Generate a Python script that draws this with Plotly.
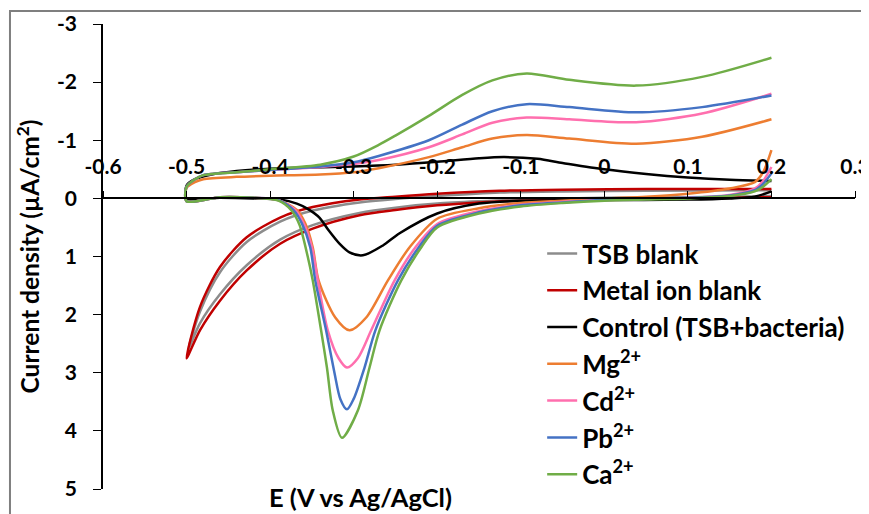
import plotly.graph_objects as go

# ---------------- data ----------------
# each CV starts at +0.2 V, cathodic scan down to -0.5 V, then anodic scan back to +0.2 V
tsb_x = [0.2, 0.1, 0.0, -0.1, -0.15, -0.2, -0.25, -0.293, -0.349, -0.388, -0.428, -0.46, -0.484, -0.498,
         -0.484, -0.46, -0.428, -0.388, -0.349, -0.293, -0.25, -0.2, -0.125, -0.05, 0.05, 0.2]
tsb_y = [-0.04, -0.02, -0.01, 0.02, 0.05, 0.09, 0.16, 0.25, 0.46, 0.71, 1.15, 1.65, 2.15, 2.6,
         1.95, 1.27, 0.75, 0.40, 0.21, 0.07, 0.01, -0.04, -0.10, -0.12, -0.13, -0.14]

metal_x = [0.2, 0.1, 0.0, -0.1, -0.15, -0.2, -0.25, -0.293, -0.349, -0.388, -0.428, -0.46, -0.484, -0.5,
           -0.484, -0.46, -0.428, -0.388, -0.349, -0.293, -0.25, -0.2, -0.125, -0.05, 0.05, 0.2]
metal_y = [-0.02, 0.0, 0.01, 0.04, 0.07, 0.12, 0.2, 0.29, 0.52, 0.78, 1.24, 1.76, 2.27, 2.75,
           1.87, 1.18, 0.67, 0.33, 0.15, 0.02, -0.03, -0.08, -0.13, -0.15, -0.16, -0.16]

ctrl_x = [0.2, 0.18, 0.15, 0.1, 0.0, -0.1, -0.15, -0.2, -0.245, -0.265, -0.289, -0.305, -0.317, -0.33,
          -0.341, -0.355, -0.368, -0.388, -0.42, -0.46, -0.5,
          -0.5, -0.49, -0.47, -0.44, -0.4, -0.35, -0.3, -0.25, -0.2, -0.15, -0.12, -0.08, -0.05, 0.0,
          0.05, 0.1, 0.15, 0.2]
ctrl_y = [-0.12, -0.03, 0.0, 0.02, 0.03, 0.04, 0.09, 0.26, 0.6, 0.81, 0.98, 0.93, 0.78, 0.55,
          0.33, 0.18, 0.09, 0.02, 0.0, -0.01, 0.0,
          -0.22, -0.33, -0.41, -0.47, -0.51, -0.53, -0.55, -0.58, -0.63, -0.69, -0.71, -0.68, -0.61, -0.5,
          -0.42, -0.36, -0.32, -0.3]

mg_x = [0.2, 0.19, 0.18, 0.15, 0.1, 0.05, 0.0, -0.05, -0.1, -0.15, -0.2, -0.233, -0.259, -0.285,
        -0.305, -0.322, -0.342, -0.349, -0.358, -0.368, -0.39, -0.42, -0.46, -0.5,
        -0.5, -0.49, -0.48, -0.44, -0.4, -0.34, -0.3, -0.27, -0.21, -0.17, -0.134, -0.093, -0.042,
        0.038, 0.117, 0.2]
mg_y = [-0.83, -0.45, -0.28, -0.17, -0.08, -0.03, 0.0, 0.04, 0.08, 0.17, 0.35, 0.84, 1.41, 2.05,
        2.27, 2.05, 1.41, 0.84, 0.43, 0.2, 0.03, -0.01, -0.02, 0.05,
        -0.18, -0.28, -0.33, -0.37, -0.39, -0.41, -0.45, -0.52, -0.71, -0.88, -1.03, -1.09, -1.03,
        -0.94, -1.06, -1.36]

cd_x = [0.2, 0.19, 0.18, 0.15, 0.1, 0.0, -0.05, -0.1, -0.15, -0.2, -0.226, -0.251, -0.279, -0.295,
        -0.308, -0.318, -0.331, -0.343, -0.35, -0.36, -0.37, -0.39, -0.42, -0.46, -0.5,
        -0.5, -0.49, -0.48, -0.44, -0.4, -0.34, -0.3, -0.27, -0.21, -0.17, -0.134, -0.093, -0.042,
        0.038, 0.117, 0.2]
cd_y = [-0.54, -0.3, -0.17, -0.06, -0.01, 0.03, 0.06, 0.11, 0.22, 0.44, 0.84, 1.41, 2.27, 2.75,
        2.91, 2.75, 2.27, 1.41, 0.84, 0.43, 0.2, 0.03, -0.01, -0.02, 0.05,
        -0.2, -0.33, -0.4, -0.45, -0.49, -0.54, -0.59, -0.66, -0.88, -1.1, -1.3, -1.39, -1.36,
        -1.31, -1.46, -1.8]

pb_x = [0.2, 0.19, 0.18, 0.15, 0.1, 0.0, -0.05, -0.1, -0.15, -0.2, -0.222, -0.247, -0.274, -0.287,
        -0.3, -0.308, -0.316, -0.323, -0.333, -0.346, -0.352, -0.362, -0.372, -0.39, -0.42, -0.46, -0.5,
        -0.5, -0.49, -0.48, -0.44, -0.4, -0.34, -0.3, -0.27, -0.21, -0.17, -0.134, -0.093, -0.042,
        0.038, 0.117, 0.2]
pb_y = [-0.43, -0.25, -0.14, -0.05, -0.01, 0.03, 0.07, 0.12, 0.24, 0.47, 0.84, 1.41, 2.27, 2.91,
        3.45, 3.63, 3.45, 3.0, 2.27, 1.41, 0.84, 0.43, 0.2, 0.03, -0.01, -0.02, 0.05,
        -0.2, -0.33, -0.4, -0.45, -0.49, -0.55, -0.62, -0.73, -1.0, -1.27, -1.5, -1.62, -1.57,
        -1.48, -1.57, -1.77]

ca_x = [0.2, 0.19, 0.18, 0.15, 0.1, 0.05, 0.0, -0.05, -0.1, -0.15, -0.2, -0.219, -0.243, -0.269,
        -0.281, -0.295, -0.314, -0.325, -0.332, -0.339, -0.349, -0.355, -0.365, -0.375,
        -0.39, -0.42, -0.46, -0.5,
        -0.5, -0.49, -0.48, -0.44, -0.4, -0.34, -0.3, -0.27, -0.25, -0.21, -0.17, -0.134, -0.093,
        -0.042, 0.038, 0.117, 0.2]
ca_y = [-0.33, -0.2, -0.12, -0.04, 0.0, 0.02, 0.04, 0.08, 0.14, 0.26, 0.5, 0.84, 1.41, 2.27,
        2.91, 3.65, 4.12, 3.65, 2.91, 2.27, 1.41, 1.0, 0.45, 0.2,
        0.04, -0.01, -0.02, 0.05,
        -0.2, -0.33, -0.4, -0.45, -0.5, -0.58, -0.72, -0.92, -1.08, -1.42, -1.78, -2.03, -2.15,
        -2.04, -1.94, -2.09, -2.42]

series_names = ["TSB blank", "Metal ion blank", "Control (TSB+bacteria)",
                "Mg<sup>2+</sup>", "Cd<sup>2+</sup>", "Pb<sup>2+</sup>", "Ca<sup>2+</sup>"]
series_colors = ["#8c8c8c", "#c00000", "#000000", "#ed7d31", "#ff6fae", "#4472c4", "#70ad47"]

x_tick_vals = [-0.6, -0.5, -0.4, -0.3, -0.2, -0.1, 0.0, 0.1, 0.2, 0.3]
x_tick_text = ["-0.6", "-0.5", "-0.4", "-0.3", "-0.2", "-0.1", "0", "0.1", "0.2", "0.3"]
y_tick_vals = [-3, -2, -1, 0, 1, 2, 3, 4, 5]
y_tick_text = ["-3", "-2", "-1", "0", "1", "2", "3", "4", "5"]

xs = [tsb_x, metal_x, ctrl_x, mg_x, cd_x, pb_x, ca_x]
ys = [tsb_y, metal_y, ctrl_y, mg_y, cd_y, pb_y, ca_y]

FONT = "Lato"


def b(t):
    return f"<b>{t}</b>"


fig = go.Figure()
for i, (name, color) in enumerate(zip(series_names, series_colors)):
    fig.add_trace(go.Scatter(
        x=xs[i], y=ys[i], name=b(name), mode="lines",
        line=dict(color=color, width=2.5, shape="spline", smoothing=0.8),
        legendgroup=f"g{i}",
    ))

# the page body has an 8 px margin, so the figure is 8 px smaller and the margins shifted
fig.update_layout(
    width=861, height=506,
    margin=dict(l=95, r=14, t=16, b=25, autoexpand=False),
    paper_bgcolor="white", plot_bgcolor="white",
    font=dict(family=FONT, size=18, color="black"),
    showlegend=True,
    legend=dict(x=0.584, y=0.557, xanchor="left", yanchor="top",
                bgcolor="rgba(0,0,0,0)", tracegroupgap=0,
                font=dict(family=FONT, size=26, color="black"),
                itemwidth=30),
    xaxis=dict(range=[-0.6, 0.3], anchor="free", position=0.625, side="top",
               showline=True, linecolor="black", linewidth=1.5,
               ticks="outside", ticklen=7, tickcolor="black", tickwidth=1.2,
               tickvals=x_tick_vals, ticktext=[b(t) for t in x_tick_text], ticklabelstandoff=8,
               ticklabeloverflow="allow",
               showgrid=False, zeroline=False,
               tickfont=dict(family=FONT, size=21, color="black")),
    yaxis=dict(range=[5, -3], showline=True, linecolor="black", linewidth=1.5,
               ticks="outside", ticklen=8, tickcolor="black", tickwidth=1.2,
               tickvals=y_tick_vals, ticktext=[b(t) for t in y_tick_text], ticklabelstandoff=12,
               showgrid=False, zeroline=False,
               tickfont=dict(family=FONT, size=21, color="black"),
               title=dict(text=b("Current density (µA/cm<sup>2</sup>)"), standoff=10,
                          font=dict(family=FONT, size=24.5, color="black"))),
)

fig.add_annotation(text=b("E (V vs Ag/AgCl)"), xref="paper", yref="paper",
                   x=0.342, y=-0.018, xanchor="center", yanchor="middle", showarrow=False,
                   font=dict(family=FONT, size=25.5, color="black"))

fig.add_shape(type="rect", xref="paper", yref="paper",
              x0=-0.1237, y0=-0.2, x1=1.2, y1=1.028,
              line=dict(color="#7f7f7f", width=2), layer="below")

fig.write_html("out.html")
